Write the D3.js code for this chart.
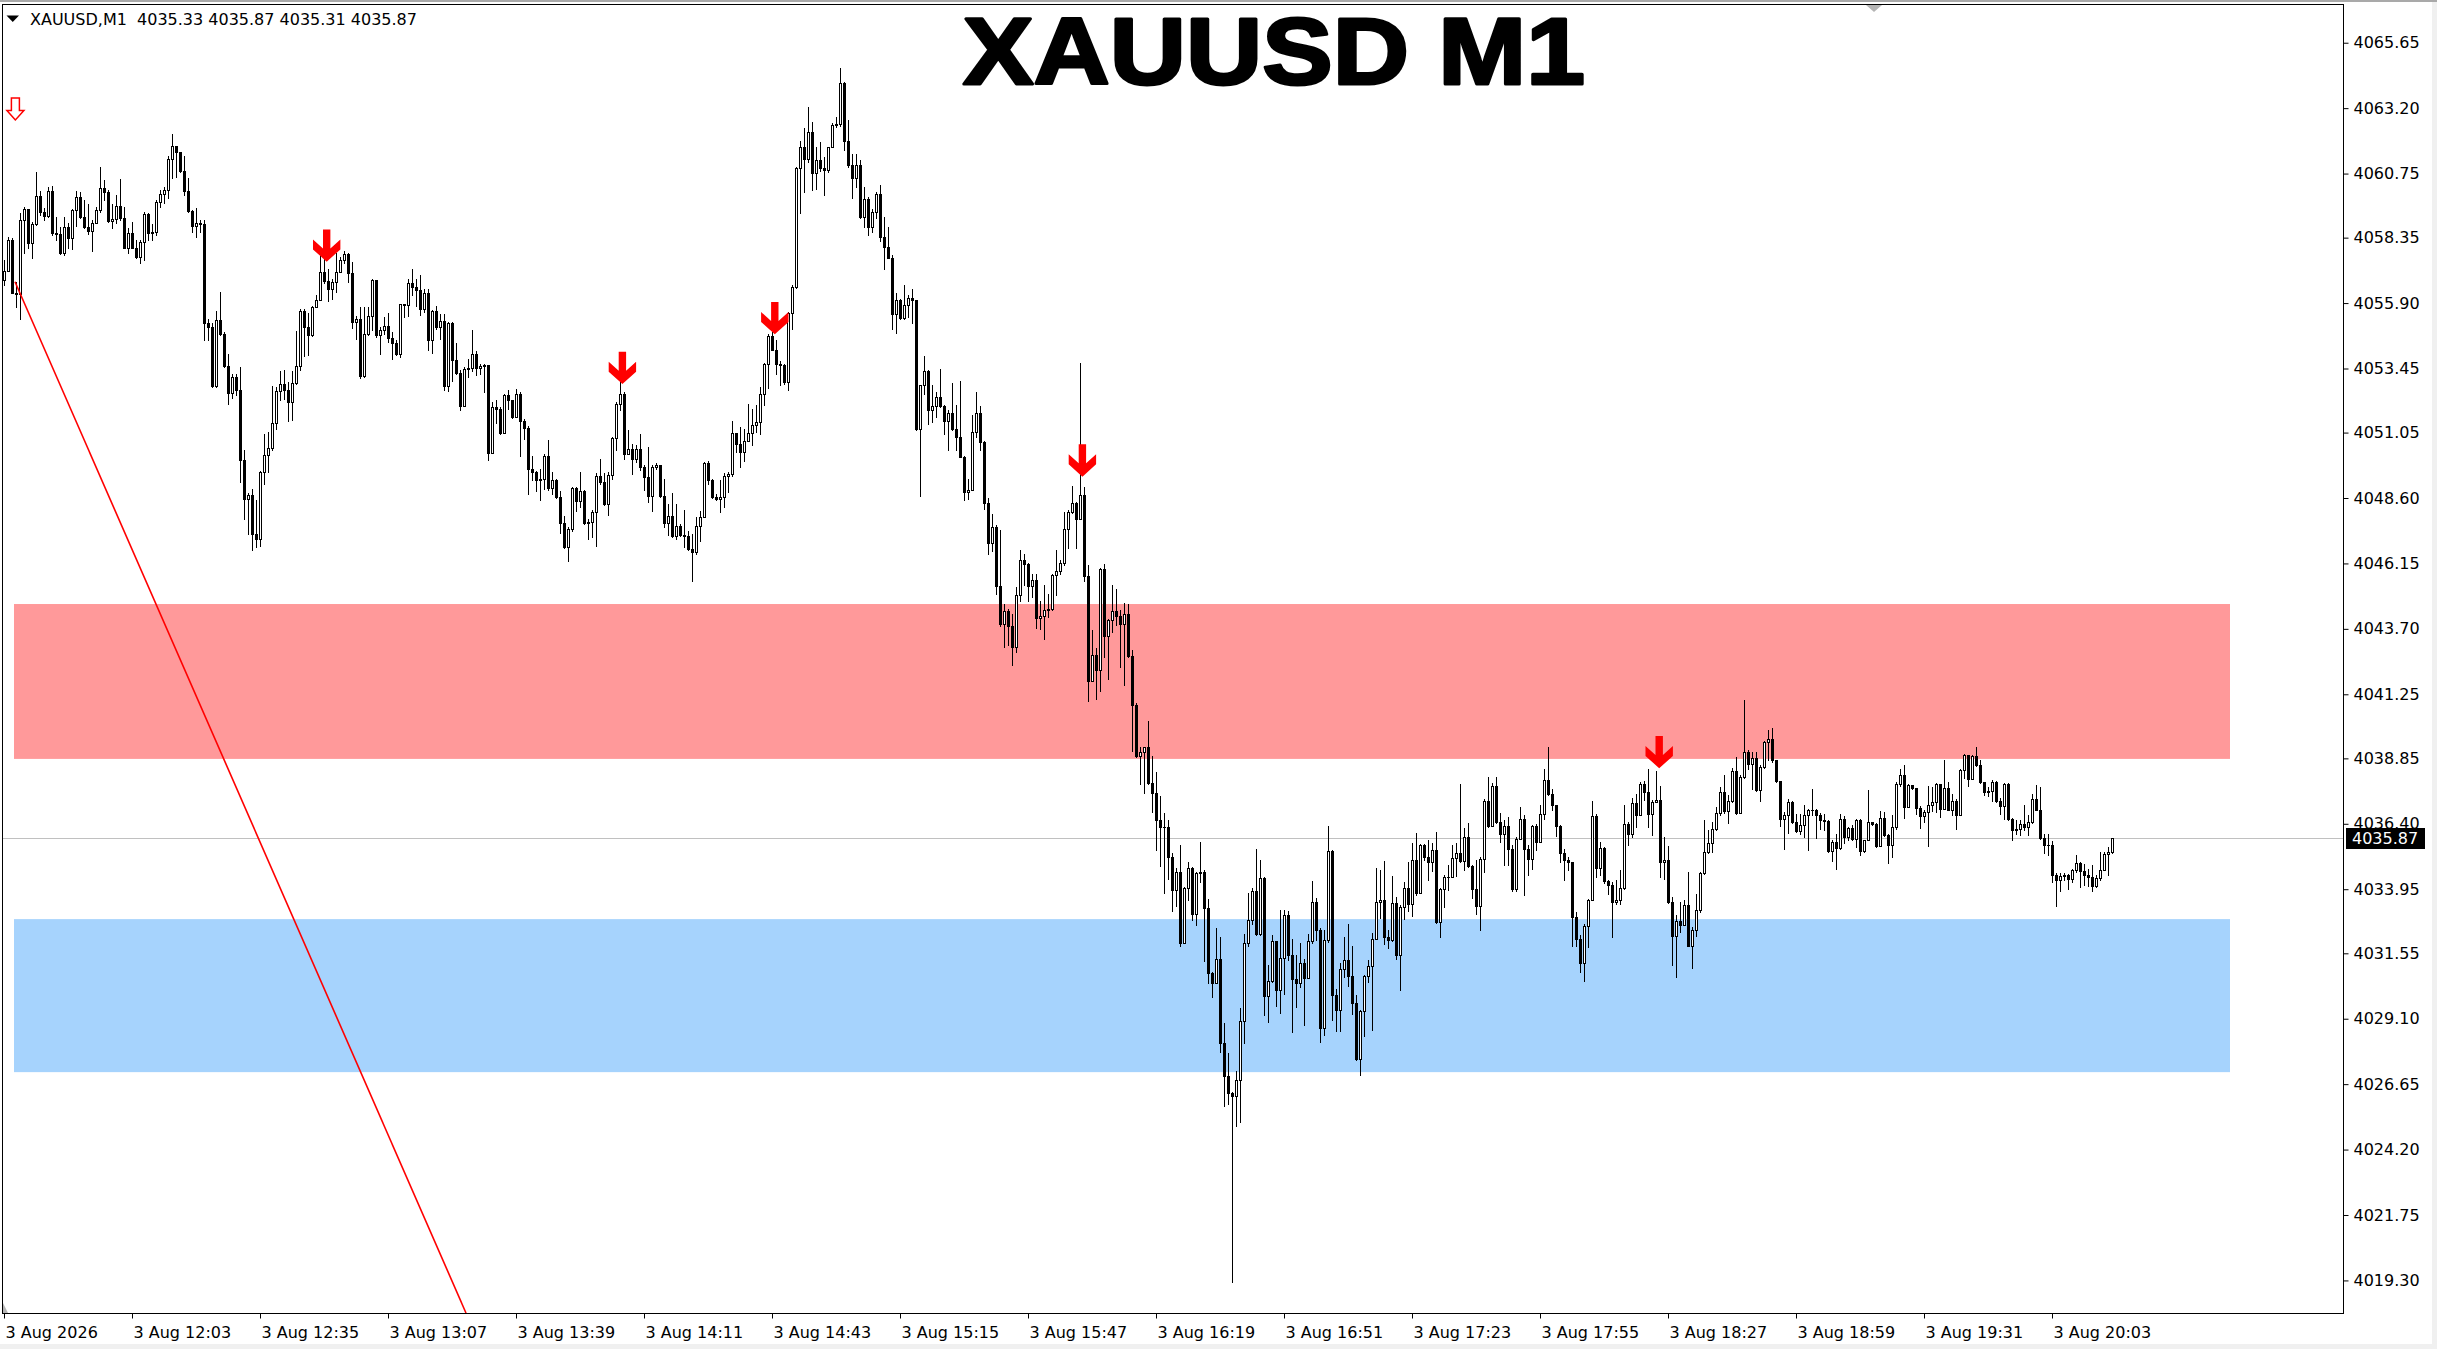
<!DOCTYPE html>
<html><head><meta charset="utf-8">
<script src="https://cdn.jsdelivr.net/npm/d3@7"></script>
<style>html,body{margin:0;padding:0;background:#fff;overflow:hidden}svg{display:block}</style>
</head><body>
<svg id="c" width="2437" height="1349"></svg>
<script>
// ---------- DATA ----------
const symbolLabel = "XAUUSD,M1";
const titleText = "XAUUSD M1";
const openP = [
4056.76,4057.11,4058.26,4056.29,4056.24,4059.01,4059.42,4058.14,4058.86,4059.92,
4059.32,4059.17,4060.10,4058.51,4058.47,4057.76,4058.76,4058.32,4059.39,4059.89,
4059.11,4058.76,4058.60,4058.90,4059.40,4060.20,4060.05,4058.99,4059.05,4059.55,
4059.07,4057.98,4058.51,4057.98,4057.64,4058.20,4059.22,4058.51,4058.55,4059.70,
4059.98,4060.14,4061.29,4061.80,4061.55,4060.86,4060.11,4059.36,4058.78,4058.90,
4058.86,4055.14,4055.00,4052.78,4055.28,4054.74,4053.55,4052.55,4053.14,4052.64,
4050.04,4048.57,4048.70,4047.26,4047.07,4049.57,4050.20,4050.48,4051.41,4052.61,
4052.86,4052.66,4052.20,4052.91,4053.56,4055.61,4055.01,4054.70,4055.74,4056.01,
4057.07,4056.73,4056.41,4056.70,4057.07,4057.51,4057.73,4057.01,4055.20,4055.30,
4053.16,4054.76,4055.41,4056.76,4054.70,4054.89,4055.06,4054.61,4054.39,4054.01,
4055.86,4055.82,4056.67,4056.51,4056.38,4055.69,4056.29,4054.50,4055.59,4055.00,
4055.23,4052.78,4055.16,4053.76,4053.28,4052.03,4053.44,4053.48,4054.00,4053.48,
4053.53,4053.57,4050.28,4052.01,4051.94,4051.03,4052.44,4052.26,4051.63,4052.50,
4051.48,4051.23,4049.69,4049.57,4049.28,4049.30,4050.16,4048.98,4049.28,4048.63,
4047.66,4046.78,4047.44,4048.98,4048.50,4048.85,4047.66,4047.70,4048.07,4049.44,
4049.20,4048.36,4049.48,4050.86,4052.11,4052.50,4050.23,4050.44,4050.07,4050.44,
4049.75,4049.38,4048.69,4049.75,4049.85,4048.69,4047.66,4047.94,4047.16,4047.57,
4047.20,4047.16,4046.69,4046.57,4047.57,4047.88,4049.90,4049.26,4048.63,4048.57,
4048.63,4049.44,4049.50,4051.03,4050.63,4050.32,4050.73,4051.05,4051.32,4051.44,
4052.50,4053.60,4054.66,4054.16,4053.63,4053.57,4052.94,4055.51,4056.51,4060.94,
4061.76,4061.28,4062.32,4060.76,4061.26,4060.94,4060.90,4061.73,4062.57,4062.60,
4064.13,4061.98,4061.07,4060.57,4061.07,4059.13,4059.78,4058.76,4059.32,4060.00,
4058.36,4058.00,4057.60,4055.50,4056.03,4055.35,4055.82,4056.10,4056.00,4051.19,
4052.82,4053.35,4051.90,4052.03,4052.40,4052.03,4051.50,4051.78,4051.19,4050.88,
4050.13,4048.82,4048.90,4051.07,4051.78,4050.69,4048.40,4046.90,4047.50,4045.30,
4043.90,4044.37,4043.79,4043.01,4044.98,4046.27,4046.14,4045.29,4045.54,4044.11,
4044.20,4044.42,4044.46,4045.70,4045.86,4046.17,4047.45,4048.08,4048.42,4047.83,
4048.73,4045.67,4041.74,4042.71,4042.17,4045.95,4043.45,4044.04,4044.36,4044.17,
4043.89,4044.26,4042.67,4040.83,4038.95,4039.08,4039.27,4037.92,4037.54,4036.54,
4036.29,4036.27,4035.14,4033.92,4034.60,4031.92,4034.00,4034.73,4033.04,4034.54,
4034.60,4033.23,4030.82,4030.42,4031.32,4028.20,4026.94,4026.31,4026.20,4026.81,
4029.02,4031.92,4032.81,4033.88,4032.27,4034.38,4029.94,4030.50,4032.02,4030.19,
4031.38,4033.00,4031.48,4030.57,4030.44,4031.17,4030.64,4032.02,4033.48,4032.44,
4028.75,4032.04,4035.38,4029.98,4029.42,4030.98,4031.31,4030.69,4029.69,4027.60,
4029.39,4030.69,4031.06,4032.10,4033.48,4033.56,4032.17,4032.04,4033.44,4031.50,
4033.27,4033.98,4033.39,4035.04,4033.79,4035.60,4035.17,4034.98,4035.42,4032.73,
4033.95,4034.39,4034.42,4035.13,4035.31,4035.00,4035.89,4034.81,4033.94,4033.33,
4035.10,4037.25,4036.31,4037.81,4036.48,4036.00,4036.30,4035.47,4033.94,4035.84,
4036.59,4035.47,4035.10,4036.32,4035.72,4036.78,4038.03,4037.53,4037.12,4036.32,
4035.31,4035.03,4034.97,4032.90,4032.09,4031.18,4032.59,4033.56,4036.68,4034.75,
4035.50,4034.24,4034.12,4033.47,4033.53,4034.00,4036.40,4036.03,4037.19,4036.72,
4037.90,4037.59,4036.78,4037.22,4037.28,4034.97,4035.06,4033.47,4032.18,4032.75,
4032.60,4033.37,4031.84,4032.43,4033.18,4034.56,4035.34,4035.68,4036.22,4036.80,
4037.59,4036.87,4037.26,4038.38,4036.80,4038.16,4039.09,4038.63,4038.88,4037.66,
4038.53,4039.47,4039.59,4038.78,4038.00,4036.59,4036.72,4037.22,4036.47,4036.13,
4036.34,4036.72,4036.93,4036.90,4036.72,4036.56,4036.50,4035.38,4035.70,4035.51,
4036.59,4035.90,4036.25,4035.84,4036.56,4035.38,4035.78,4036.47,4036.38,4035.57,
4036.63,4035.97,4035.62,4036.28,4037.88,4038.24,4037.03,4037.84,4037.75,4037.00,
4036.68,4036.84,4037.09,4037.20,4037.88,4036.97,4037.75,4036.93,4037.24,4036.74,
4038.41,4038.97,4038.06,4038.93,4038.62,4037.97,4037.59,4037.63,4037.97,4037.26,
4037.07,4037.90,4036.59,4036.16,4036.22,4036.38,4036.28,4036.47,4037.32,4036.93,
4035.87,4035.62,4035.60,4034.49,4034.31,4034.43,4034.47,4034.32,4034.66,4034.94,
4034.63,4034.47,4034.41,4034.07,4034.38,4034.66,4035.28,4035.33
];
const highP = [
4057.53,4058.36,4058.32,4056.70,4059.26,4059.48,4059.32,4058.95,4060.82,4060.11,
4059.47,4060.24,4060.30,4059.14,4058.76,4059.11,4058.91,4059.41,4060.11,4060.07,
4059.76,4059.60,4059.00,4059.50,4061.00,4060.50,4060.13,4059.60,4059.95,4060.53,
4059.50,4058.70,4058.95,4058.26,4058.26,4059.32,4059.26,4058.88,4059.76,4060.14,
4060.26,4061.39,4062.24,4061.76,4061.57,4061.39,4060.57,4059.40,4059.45,4059.00,
4059.00,4055.30,4055.15,4055.60,4056.31,4054.80,4054.00,4053.24,4053.24,4053.51,
4050.41,4048.80,4048.95,4048.51,4049.60,4051.00,4051.07,4052.78,4052.76,4053.36,
4053.39,4052.95,4053.36,4054.86,4055.66,4055.66,4055.51,4055.80,4056.20,4057.73,
4057.73,4057.16,4056.82,4057.76,4057.63,4057.86,4057.78,4057.45,4055.41,4055.76,
4055.76,4055.76,4056.82,4056.76,4055.00,4055.38,4055.51,4054.82,4054.51,4055.88,
4055.88,4056.79,4057.19,4056.82,4056.94,4056.44,4056.44,4055.63,4055.78,4055.50,
4055.50,4055.19,4055.19,4054.41,4053.38,4053.50,4053.80,4054.90,4054.09,4053.63,
4053.63,4053.53,4052.19,4052.26,4052.01,4052.50,4052.63,4052.19,4052.69,4052.57,
4051.57,4051.30,4050.16,4049.63,4049.69,4050.23,4050.78,4049.57,4049.32,4048.86,
4047.94,4047.50,4049.00,4049.00,4049.57,4048.90,4047.82,4048.16,4049.53,4050.07,
4049.53,4049.57,4050.90,4052.19,4052.94,4052.57,4051.16,4050.63,4050.60,4050.98,
4049.82,4050.50,4049.82,4049.90,4049.82,4049.32,4048.38,4048.80,4048.38,4047.63,
4048.16,4047.38,4047.25,4047.88,4048.13,4049.94,4050.00,4049.30,4048.75,4049.26,
4049.53,4049.57,4051.50,4050.94,4051.25,4051.19,4052.13,4051.94,4052.07,4052.75,
4053.66,4054.75,4054.82,4054.50,4053.73,4053.60,4055.57,4056.57,4061.00,4061.98,
4062.44,4063.23,4062.69,4061.76,4061.94,4061.38,4061.76,4062.66,4062.88,4064.69,
4064.19,4062.76,4061.50,4061.50,4061.26,4060.26,4059.86,4059.44,4060.07,4060.32,
4059.13,4058.76,4057.69,4056.26,4056.07,4056.57,4056.19,4056.44,4055.82,4052.84,
4053.90,4053.38,4052.82,4052.57,4053.44,4052.10,4051.90,4052.91,4052.10,4053.00,
4050.16,4049.32,4051.69,4052.57,4052.03,4050.75,4048.60,4048.00,4047.60,4047.40,
4044.64,4044.45,4044.26,4045.26,4046.64,4046.49,4046.17,4045.76,4045.74,4044.74,
4045.36,4045.00,4045.76,4046.64,4046.29,4048.08,4048.14,4049.04,4048.45,4053.64,
4049.02,4046.08,4043.64,4043.00,4045.99,4046.14,4044.08,4045.36,4045.20,4044.39,
4044.66,4044.64,4042.92,4040.91,4039.26,4039.29,4040.26,4038.95,4038.35,4037.44,
4036.79,4036.56,4035.29,4034.73,4035.60,4034.04,4034.98,4034.79,4034.60,4035.70,
4034.67,4033.60,4030.85,4032.48,4032.17,4028.95,4027.81,4026.35,4027.16,4029.52,
4032.27,4033.81,4034.00,4035.45,4035.04,4034.42,4031.10,4032.25,4031.98,4033.17,
4033.17,4033.14,4032.10,4031.48,4031.92,4031.35,4032.27,4034.27,4033.63,4032.50,
4032.44,4036.33,4035.41,4030.23,4031.19,4032.17,4032.63,4031.81,4029.98,4029.42,
4030.73,4031.29,4032.31,4034.73,4034.67,4035.02,4032.42,4034.44,4033.64,4033.35,
4034.23,4034.98,4035.69,4036.04,4035.64,4035.64,4035.81,4035.67,4036.10,4034.00,
4034.48,4034.85,4035.60,4035.67,4037.89,4036.23,4036.42,4034.85,4035.04,4035.17,
4037.31,4038.14,4037.92,4038.14,4036.80,4036.53,4036.66,4035.59,4035.90,4037.03,
4036.72,4035.60,4036.34,4036.41,4037.09,4038.47,4039.26,4037.72,4037.09,4036.34,
4035.47,4035.15,4034.90,4033.09,4032.22,4032.63,4033.59,4037.24,4036.78,4035.72,
4035.53,4034.28,4034.22,4034.28,4034.66,4037.09,4036.47,4037.38,4037.53,4037.97,
4037.99,4038.47,4037.28,4038.38,4037.81,4035.90,4035.56,4033.65,4032.97,4033.47,
4033.53,4034.59,4032.53,4033.78,4034.59,4036.56,4036.16,4036.47,4037.03,4037.78,
4038.22,4037.47,4038.50,4038.90,4038.22,4041.03,4039.18,4039.09,4039.09,4038.59,
4039.50,4039.90,4039.97,4038.80,4037.97,4036.84,4037.34,4037.26,4036.78,4036.76,
4037.09,4036.97,4037.72,4036.97,4036.82,4036.78,4036.53,4035.80,4036.00,4036.76,
4036.68,4036.28,4036.34,4036.59,4036.59,4035.80,4037.68,4036.47,4036.43,4036.88,
4036.84,4036.03,4036.72,4037.97,4038.47,4038.59,4037.88,4037.80,4037.50,4037.06,
4036.90,4037.81,4037.78,4037.93,4037.78,4038.78,4037.97,4037.53,4037.34,4038.47,
4039.03,4038.93,4038.97,4039.28,4038.78,4037.97,4037.76,4038.03,4038.00,4037.38,
4037.93,4037.93,4036.63,4036.56,4036.56,4037.09,4036.72,4037.53,4037.84,4037.76,
4036.03,4036.00,4035.74,4034.56,4034.56,4034.56,4034.53,4034.72,4035.22,4034.97,
4034.90,4034.72,4034.84,4034.47,4035.34,4035.34,4035.53,4035.87
];
const lowP = [
4056.57,4057.11,4056.26,4055.76,4055.32,4057.76,4057.95,4057.57,4058.82,4059.20,
4059.01,4059.11,4058.45,4058.26,4057.73,4057.70,4057.95,4057.91,4058.78,4059.07,
4058.70,4058.50,4057.85,4058.90,4059.30,4059.76,4058.95,4058.70,4058.90,4059.00,
4057.95,4057.78,4057.95,4057.60,4057.40,4057.50,4058.26,4058.26,4058.45,4059.50,
4059.64,4059.85,4060.60,4060.64,4060.82,4059.95,4059.32,4058.57,4058.36,4058.57,
4054.51,4054.51,4052.76,4052.76,4054.70,4053.51,4052.13,4052.35,4052.45,4049.20,
4047.82,4047.26,4046.66,4046.76,4046.82,4049.13,4049.57,4050.41,4051.20,4052.26,
4052.32,4051.48,4051.51,4052.88,4053.38,4053.91,4053.95,4054.66,4055.76,4056.07,
4056.66,4055.98,4056.07,4056.32,4057.07,4057.41,4056.70,4054.95,4054.57,4053.10,
4053.13,4054.70,4054.88,4054.64,4054.01,4054.76,4054.45,4053.82,4053.95,4053.88,
4055.36,4055.40,4056.20,4055.78,4055.44,4055.57,4054.13,4054.04,4054.94,4054.57,
4052.63,4052.61,4053.00,4053.26,4051.90,4052.10,4053.13,4053.36,4053.19,4053.26,
4052.57,4050.03,4050.32,4051.41,4051.00,4051.07,4051.94,4051.60,4051.63,4050.16,
4050.82,4048.76,4049.26,4048.88,4048.53,4048.94,4048.90,4048.76,4048.60,4047.28,
4046.73,4046.23,4047.38,4048.13,4048.28,4047.63,4047.07,4047.13,4046.82,4049.13,
4048.32,4047.98,4049.32,4050.41,4051.88,4050.07,4050.28,4049.50,4049.94,4049.66,
4048.90,4048.44,4048.10,4049.70,4048.63,4047.53,4047.20,4047.13,4047.07,4047.16,
4046.76,4046.66,4045.51,4046.50,4047.00,4047.88,4049.13,4048.60,4048.53,4048.07,
4048.25,4048.82,4049.44,4050.32,4049.78,4050.00,4051.00,4050.57,4051.07,4051.00,
4052.07,4052.73,4054.13,4053.23,4052.82,4052.88,4052.63,4054.94,4056.48,4059.26,
4060.07,4061.19,4060.13,4060.19,4060.86,4059.94,4060.82,4061.76,4062.48,4062.53,
4061.63,4061.01,4059.82,4060.23,4059.07,4058.76,4058.44,4058.57,4059.07,4058.23,
4057.19,4057.57,4054.94,4054.78,4055.32,4055.32,4055.38,4055.16,4051.16,4048.69,
4052.50,4051.36,4051.44,4051.65,4052.00,4050.98,4050.38,4051.13,4050.38,4050.13,
4048.53,4048.57,4049.07,4050.88,4050.38,4048.20,4046.50,4046.60,4045.00,4043.80,
4043.02,4043.08,4042.33,4042.83,4044.76,4045.33,4044.76,4044.89,4043.74,4043.70,
4043.33,4044.14,4044.39,4044.95,4045.76,4046.08,4046.74,4048.04,4046.74,4047.83,
4045.49,4040.99,4041.77,4041.08,4041.39,4042.64,4041.83,4043.58,4043.86,4042.27,
4041.58,4042.64,4039.11,4038.89,4037.90,4037.55,4037.90,4036.85,4035.41,4034.81,
4033.79,4034.35,4033.14,4033.33,4031.83,4031.92,4033.54,4032.79,4032.60,4034.23,
4031.27,4030.42,4029.92,4030.57,4027.85,4025.85,4025.91,4019.25,4025.10,4025.23,
4028.19,4031.82,4032.64,4032.23,4032.23,4029.23,4028.98,4030.48,4029.57,4029.32,
4030.04,4031.29,4028.60,4029.54,4030.29,4028.88,4030.67,4031.94,4032.04,4028.23,
4028.48,4031.98,4029.07,4028.64,4028.64,4030.67,4030.31,4029.27,4027.54,4027.00,
4028.44,4030.48,4028.67,4032.10,4032.89,4031.89,4031.75,4032.01,4031.35,4030.19,
4032.85,4033.14,4032.94,4033.73,4033.79,4035.04,4034.29,4034.64,4032.67,4032.17,
4033.27,4033.92,4034.39,4034.44,4034.98,4034.67,4034.79,4033.63,4033.02,4032.42,
4034.60,4036.29,4036.35,4036.44,4035.72,4034.84,4034.84,4033.90,4033.90,4035.84,
4033.72,4034.49,4034.72,4035.40,4035.80,4036.59,4037.47,4036.90,4035.93,4034.97,
4034.28,4034.68,4031.84,4031.84,4030.84,4030.50,4031.80,4033.53,4034.40,4034.47,
4034.18,4033.78,4032.15,4033.38,4033.38,4033.97,4035.59,4035.90,4036.28,4036.72,
4037.28,4036.28,4035.97,4037.22,4034.40,4034.34,4033.43,4031.13,4030.68,4032.34,
4032.84,4031.82,4031.00,4032.18,4033.09,4034.53,4035.31,4035.34,4036.16,4036.72,
4036.80,4036.43,4037.22,4036.75,4036.90,4038.13,4038.47,4037.72,4037.63,4037.26,
4038.50,4038.78,4038.72,4037.97,4036.32,4035.47,4036.06,4036.43,4036.09,4036.00,
4035.90,4035.40,4036.72,4035.88,4036.22,4036.18,4035.34,4035.00,4034.72,4035.47,
4035.68,4035.78,4035.80,4035.53,4035.22,4035.34,4035.80,4036.34,4035.53,4035.90,
4035.93,4034.93,4035.16,4036.22,4037.81,4036.63,4037.06,4037.72,4036.78,4036.26,
4036.47,4035.57,4036.88,4036.84,4036.66,4036.97,4036.90,4036.72,4036.22,4036.76,
4038.12,4037.81,4038.09,4038.57,4037.93,4037.47,4037.44,4037.26,4037.22,4036.76,
4036.59,4036.56,4035.81,4036.00,4035.97,4036.18,4035.97,4036.43,4036.90,4035.84,
4035.31,4035.22,4034.22,4033.34,4033.88,4034.28,4033.97,4034.22,4034.59,4034.03,
4034.09,4034.06,4033.88,4034.03,4034.31,4034.66,4034.50,4035.31
];
const closeP = [
4057.11,4058.26,4056.29,4056.24,4059.01,4059.42,4058.14,4058.86,4059.92,4059.32,
4059.17,4060.10,4058.51,4058.47,4057.76,4058.76,4058.32,4059.39,4059.89,4059.11,
4058.76,4058.60,4058.90,4059.40,4060.20,4060.05,4058.99,4059.05,4059.55,4059.07,
4057.98,4058.51,4057.98,4057.64,4058.20,4059.22,4058.51,4058.55,4059.70,4059.98,
4060.14,4061.29,4061.80,4061.55,4060.86,4060.11,4059.36,4058.78,4058.90,4058.86,
4055.14,4055.00,4052.78,4055.28,4054.74,4053.55,4052.55,4053.14,4052.64,4050.04,
4048.57,4048.70,4047.26,4047.07,4049.57,4050.20,4050.48,4051.41,4052.61,4052.86,
4052.66,4052.20,4052.91,4053.56,4055.61,4055.01,4054.70,4055.74,4056.01,4057.07,
4056.73,4056.41,4056.70,4057.07,4057.51,4057.73,4057.01,4055.20,4055.30,4053.16,
4054.76,4055.41,4056.76,4054.70,4054.89,4055.06,4054.61,4054.39,4054.01,4055.86,
4055.82,4056.67,4056.51,4056.38,4055.69,4056.29,4054.50,4055.59,4055.00,4055.23,
4052.78,4055.16,4053.76,4053.28,4052.03,4053.44,4053.48,4054.00,4053.48,4053.53,
4053.57,4050.28,4052.01,4051.94,4051.03,4052.44,4052.26,4051.63,4052.50,4051.48,
4051.23,4049.69,4049.57,4049.28,4049.30,4050.16,4048.98,4049.28,4048.63,4047.66,
4046.78,4047.44,4048.98,4048.50,4048.85,4047.66,4047.70,4048.07,4049.44,4049.20,
4048.36,4049.48,4050.86,4052.11,4052.50,4050.23,4050.44,4050.07,4050.44,4049.75,
4049.38,4048.69,4049.75,4049.85,4048.69,4047.66,4047.94,4047.16,4047.57,4047.20,
4047.16,4046.69,4046.57,4047.57,4047.88,4049.90,4049.26,4048.63,4048.57,4048.63,
4049.44,4049.50,4051.03,4050.63,4050.32,4050.73,4051.05,4051.32,4051.44,4052.50,
4053.60,4054.66,4054.16,4053.63,4053.57,4052.94,4055.51,4056.51,4060.94,4061.76,
4061.28,4062.32,4060.76,4061.26,4060.94,4060.90,4061.73,4062.57,4062.60,4064.13,
4061.98,4061.07,4060.57,4061.07,4059.13,4059.78,4058.76,4059.32,4060.00,4058.36,
4058.00,4057.60,4055.50,4056.03,4055.35,4055.82,4056.10,4056.00,4051.19,4052.82,
4053.35,4051.90,4052.03,4052.40,4052.03,4051.50,4051.78,4051.19,4050.88,4050.13,
4048.82,4048.90,4051.07,4051.78,4050.69,4048.40,4046.90,4047.50,4045.30,4043.90,
4044.37,4043.79,4043.01,4044.98,4046.27,4046.14,4045.29,4045.54,4044.11,4044.20,
4044.42,4044.46,4045.70,4045.86,4046.17,4047.45,4048.08,4048.42,4047.83,4048.73,
4045.67,4041.74,4042.71,4042.17,4045.95,4043.45,4044.04,4044.36,4044.17,4043.89,
4044.26,4042.67,4040.83,4038.95,4039.08,4039.27,4037.92,4037.54,4036.54,4036.29,
4036.27,4035.14,4033.92,4034.60,4031.92,4034.00,4034.73,4033.04,4034.54,4034.60,
4033.23,4030.82,4030.42,4031.32,4028.20,4026.94,4026.31,4026.20,4026.81,4029.02,
4031.92,4032.81,4033.88,4032.27,4034.38,4029.94,4030.50,4032.02,4030.19,4031.38,
4033.00,4031.48,4030.57,4030.44,4031.17,4030.64,4032.02,4033.48,4032.44,4028.75,
4032.04,4035.38,4029.98,4029.42,4030.98,4031.31,4030.69,4029.69,4027.60,4029.39,
4030.69,4031.06,4032.10,4033.48,4033.56,4032.17,4032.04,4033.44,4031.50,4033.27,
4033.98,4033.39,4035.04,4033.79,4035.60,4035.17,4034.98,4035.42,4032.73,4033.95,
4034.39,4034.42,4035.13,4035.31,4035.00,4035.89,4034.81,4033.94,4033.33,4035.10,
4037.25,4036.31,4037.81,4036.48,4036.00,4036.30,4035.47,4033.94,4035.84,4036.59,
4035.47,4035.10,4036.32,4035.72,4036.78,4038.03,4037.53,4037.12,4036.32,4035.31,
4035.03,4034.97,4032.90,4032.09,4031.18,4032.59,4033.56,4036.68,4034.75,4035.50,
4034.24,4034.12,4033.47,4033.53,4034.00,4036.40,4036.03,4037.19,4036.72,4037.90,
4037.59,4036.78,4037.22,4037.28,4034.97,4035.06,4033.47,4032.18,4032.75,4032.60,
4033.37,4031.84,4032.43,4033.18,4034.56,4035.34,4035.68,4036.22,4036.80,4037.59,
4036.87,4037.26,4038.38,4036.80,4038.16,4039.09,4038.63,4038.88,4037.66,4038.53,
4039.47,4039.59,4038.78,4038.00,4036.59,4036.72,4037.22,4036.47,4036.13,4036.34,
4036.72,4036.93,4036.90,4036.72,4036.56,4036.50,4035.38,4035.70,4035.51,4036.59,
4035.90,4036.25,4035.84,4036.56,4035.38,4035.78,4036.47,4036.38,4035.57,4036.63,
4035.97,4035.62,4036.28,4037.88,4038.24,4037.03,4037.84,4037.75,4037.00,4036.68,
4036.84,4037.09,4037.20,4037.88,4036.97,4037.75,4036.93,4037.24,4036.74,4038.41,
4038.97,4038.06,4038.93,4038.62,4037.97,4037.59,4037.63,4037.97,4037.26,4037.07,
4037.90,4036.59,4036.16,4036.22,4036.38,4036.28,4036.47,4037.32,4036.93,4035.87,
4035.62,4035.60,4034.49,4034.31,4034.43,4034.47,4034.32,4034.66,4034.94,4034.63,
4034.47,4034.41,4034.07,4034.38,4034.66,4035.28,4035.33,4035.87
];
const priceTicks = [4065.65,4063.20,4060.75,4058.35,4055.90,4053.45,4051.05,4048.60,4046.15,4043.70,
  4041.25,4038.85,4036.40,4033.95,4031.55,4029.10,4026.65,4024.20,4021.75,4019.30];
const timeTickIndex = [0,32,64,96,128,160,192,224,256,288,320,352,384,416,448,480,512];
const timeTickLabels = ["3 Aug 2026","3 Aug 12:03","3 Aug 12:35","3 Aug 13:07","3 Aug 13:39","3 Aug 14:11",
  "3 Aug 14:43","3 Aug 15:15","3 Aug 15:47","3 Aug 16:19","3 Aug 16:51","3 Aug 17:23","3 Aug 17:55",
  "3 Aug 18:27","3 Aug 18:59","3 Aug 19:31","3 Aug 20:03"];
const priceRange = [4018.08, 4067.10];          // visible price window
const resistanceZone = [2.5, 556.5, 4044.63, 4038.83]; // bar from, bar to, price top, price bottom
const supportZone    = [2.5, 556.5, 4032.83, 4027.10];
const trendStart = [2.75, 4056.70];             // bar index, price
const trendEnd   = [115.5, 4018.08];
const sellArrowBars   = [80.67, 154.6, 192.7, 269.6, 413.8];
const sellArrowPrices = [4057.45, 4052.87, 4054.73, 4049.40, 4038.48];
const hollowArrow = [2.85, 4062.76];
const lastPrice = 4035.87;

// ---------- DRAW ----------
const W = 2437, H = 1349;
const plot = {left: 2.5, right: 2343.5, top: 4.5, bottom: 1313.5};
const svg = d3.select('#c');
const n = closeP.length;

svg.append('rect').attr('width', W).attr('height', H).attr('fill', '#fff');
svg.append('rect').attr('x', 0).attr('y', 0).attr('width', W).attr('height', 2).attr('fill', '#a9a9a9');
svg.append('rect').attr('x', 0).attr('y', 1344).attr('width', W).attr('height', 5).attr('fill', '#f0f0f0');
svg.append('rect').attr('x', 2432).attr('y', 2).attr('width', 5).attr('height', H).attr('fill', '#f0f0f0');

const x = d3.scaleLinear().domain([0, n - 1]).range([4, 4 + 4 * (n - 1)]);
const y = d3.scaleLinear().domain(priceRange).range([1313, 4]);

svg.append('defs').append('clipPath').attr('id', 'clip')
  .append('rect').attr('x', 3).attr('y', 5).attr('width', plot.right - 3).attr('height', plot.bottom - 5);

const gPlot = svg.append('g').attr('clip-path', 'url(#clip)');

// zones
[[resistanceZone, '#ff999a'], [supportZone, '#a6d3fd']].forEach(([z, col]) => {
  gPlot.append('rect')
    .attr('x', x(z[0])).attr('width', x(z[1]) - x(z[0]))
    .attr('y', y(z[2])).attr('height', y(z[3]) - y(z[2]))
    .attr('fill', col);
});

// bid line
const yl = Math.round(y(lastPrice));
gPlot.append('line').attr('x1', plot.left).attr('x2', plot.right)
  .attr('y1', yl + 0.5).attr('y2', yl + 0.5).attr('stroke', '#c0c0c0').attr('stroke-width', 1);

// candles
const gC = gPlot.append('g').attr('shape-rendering', 'crispEdges');
const bars = gC.selectAll('g.bar').data(d3.range(n)).join('g').attr('class', 'bar');
bars.each(function(i) {
  const g = d3.select(this);
  const o = openP[i], h = highP[i], l = lowP[i], c = closeP[i];
  const cx = Math.round(x(i));
  const wt = Math.round(y(Math.max(h, o, c))), wb = Math.round(y(Math.min(l, o, c)));
  g.append('rect').attr('x', cx).attr('y', wt).attr('width', 1).attr('height', wb - wt + 1).attr('fill', '#000');
  const bt = Math.round(y(Math.max(o, c))), bb = Math.round(y(Math.min(o, c)));
  if (bb - bt < 1) {
    g.append('rect').attr('x', cx - 1).attr('y', bt).attr('width', 3).attr('height', 1).attr('fill', '#000');
  } else if (c > o) {
    g.append('rect').attr('x', cx - 0.5).attr('y', bt + 0.5).attr('width', 2).attr('height', bb - bt)
      .attr('fill', '#fff').attr('stroke', '#000').attr('stroke-width', 1);
  } else {
    g.append('rect').attr('x', cx - 1).attr('y', bt).attr('width', 3).attr('height', bb - bt + 1).attr('fill', '#000');
  }
});

// trend line
gPlot.append('line')
  .attr('x1', x(trendStart[0])).attr('y1', y(trendStart[1]))
  .attr('x2', x(trendEnd[0])).attr('y2', y(trendEnd[1]))
  .attr('stroke', '#ff0000').attr('stroke-width', 1.6);

// sell arrows
const sellShape = 'M0,0 L-13.7,-12.3 L-13.7,-22.3 L-3.7,-13.3 L-3.7,-32.3 L3.7,-32.3 L3.7,-13.3 L13.7,-22.3 L13.7,-12.3 Z';
gPlot.selectAll('path.sell').data(sellArrowBars).join('path').attr('class', 'sell')
  .attr('d', sellShape)
  .attr('transform', (d, k) => `translate(${x(d)},${y(sellArrowPrices[k])})`)
  .attr('fill', '#ff0000');
gPlot.append('path')
  .attr('d', 'M0,0 L-8.5,-9.5 L-4,-9.5 L-4,-22 L4,-22 L4,-9.5 L8.5,-9.5 Z')
  .attr('transform', `translate(${x(hollowArrow[0])},${y(hollowArrow[1])})`)
  .attr('fill', '#fff').attr('stroke', '#ff0000').attr('stroke-width', 1.5);

// frame
svg.append('rect').attr('x', plot.left).attr('y', plot.top)
  .attr('width', plot.right - plot.left).attr('height', plot.bottom - plot.top)
  .attr('fill', 'none').attr('stroke', '#000').attr('stroke-width', 1);

// chart-shift marker + scroll marker
svg.append('path').attr('d', 'M1866,5 L1882,5 L1874,12 Z').attr('fill', '#b4b4b4');
svg.append('path').attr('d', 'M3,1303 L3,1313 L8,1313 Z').attr('fill', '#b4b4b4');

const FONT = 'DejaVu Sans, Verdana, sans-serif';

// right axis
const yAxis = d3.axisRight(y).tickValues(priceTicks).tickFormat(d3.format('.2f')).tickSize(5).tickPadding(5);
const gy = svg.append('g').attr('transform', `translate(${plot.right},0)`).call(yAxis);
gy.select('.domain').remove();
gy.selectAll('line').attr('stroke', '#000');
gy.selectAll('text').attr('font-family', FONT).attr('font-size', 16).attr('fill', '#000');

// bottom axis
const xAxis = d3.axisBottom(x).tickValues(timeTickIndex).tickFormat((d, k) => timeTickLabels[k]).tickSize(5).tickPadding(8);
const gx = svg.append('g').attr('transform', `translate(0,${plot.bottom})`).call(xAxis);
gx.select('.domain').remove();
gx.selectAll('line').attr('stroke', '#000');
gx.selectAll('text').attr('font-family', FONT).attr('font-size', 16).attr('fill', '#000')
  .attr('text-anchor', 'start').attr('dx', 1);

// last price box
svg.append('rect').attr('x', 2346).attr('y', yl - 10).attr('width', 79).attr('height', 21).attr('fill', '#000');
svg.append('text').attr('x', 2352).attr('y', yl + 6).attr('font-family', FONT).attr('font-size', 16)
  .attr('fill', '#fff').text(d3.format('.2f')(lastPrice));

// header
svg.append('path').attr('d', 'M6.5,15.5 L19,15.5 L12.75,22 Z').attr('fill', '#000');
const last = n - 1;
const fmt = d3.format('.2f');
svg.append('text').attr('x', 30).attr('y', 25).attr('font-family', FONT).attr('font-size', 16)
  .attr('fill', '#000').style('white-space', 'pre')
  .text(`${symbolLabel}  ${fmt(openP[last])} ${fmt(highP[last])} ${fmt(lowP[last])} ${fmt(closeP[last])}`);

// title
svg.append('text').attr('x', 963).attr('y', 84)
  .attr('font-family', 'Liberation Sans, Arial, sans-serif').attr('font-weight', 'bold').attr('font-size', 94)
  .attr('textLength', 622).attr('lengthAdjust', 'spacingAndGlyphs')
  .attr('fill', '#000').attr('stroke', '#000').attr('stroke-width', 3).attr('stroke-linejoin', 'round')
  .text(titleText);
</script>
</body></html>
